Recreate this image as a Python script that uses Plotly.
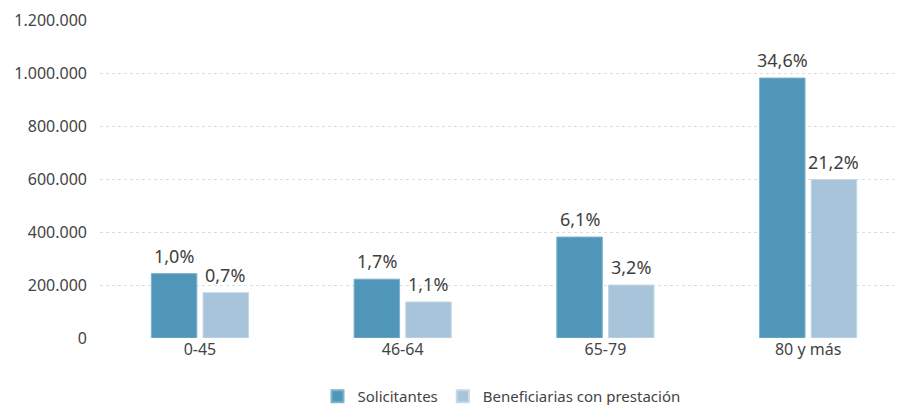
import plotly.graph_objects as go

categories = ["0-45", "46-64", "65-79", "80 y más"]
solicitantes = [243000, 222000, 381000, 981000]
beneficiarias = [171000, 136000, 200000, 598000]
pct_solicitantes = ["1,0%", "1,7%", "6,1%", "34,6%"]
pct_beneficiarias = ["0,7%", "1,1%", "3,2%", "21,2%"]
tick_vals = [0, 200000, 400000, 600000, 800000, 1000000, 1200000]
tick_text = ["0", "200.000", "400.000", "600.000", "800.000", "1.000.000", "1.200.000"]

FONT = "Noto Sans"
fig = go.Figure()
fig.add_trace(go.Bar(
    name="Solicitantes", x=categories, y=solicitantes,
    marker=dict(color="#5096B8", line=dict(color="#7FB2CC", width=1)),
))
fig.add_trace(go.Bar(
    name="Beneficiarias con prestación", x=categories, y=beneficiarias,
    marker=dict(color="#A7C4DA", line=dict(color="#C4D8E7", width=1)),
))

# value labels above each bar (grouped bar centres are ~26 px either side of category centre)
for series, labels, shift in ((solicitantes, pct_solicitantes, -25.5),
                              (beneficiarias, pct_beneficiarias, 25.5)):
    for cat, val, lab in zip(categories, series, labels):
        fig.add_annotation(x=cat, y=val, text=lab, showarrow=False,
                           xanchor="center", yanchor="bottom", xshift=shift, yshift=4,
                           font=dict(size=18, color="#3F3F3F", family=FONT))

fig.update_layout(
    width=903, height=405,
    margin=dict(l=92, r=8, t=12, b=75, autoexpand=False),
    paper_bgcolor="white", plot_bgcolor="white",
    barmode="group", bargap=0.49, bargroupgap=0.12,
    font=dict(family=FONT, color="#444444", size=15),
    showlegend=True,
    legend=dict(orientation="h", x=0.5, xanchor="center", yref="container", y=0.0, yanchor="bottom",
                font=dict(size=15, color="#444444"), itemsizing="constant",
                traceorder="normal", itemwidth=30),
    xaxis=dict(range=[-0.493, 3.468], showgrid=False, showline=False, ticks="",
               automargin=False, tickfont=dict(size=16, color="#444444")),
    yaxis=dict(range=[0, 1200000], tickvals=tick_vals, ticktext=tick_text,
               showgrid=True, gridcolor="#DDDDDD", griddash="dot", gridwidth=1,
               zeroline=False, automargin=False,
               ticks="", ticklabelstandoff=12,
               tickfont=dict(size=16, color="#444444")),
)
fig.write_html("out.html")
